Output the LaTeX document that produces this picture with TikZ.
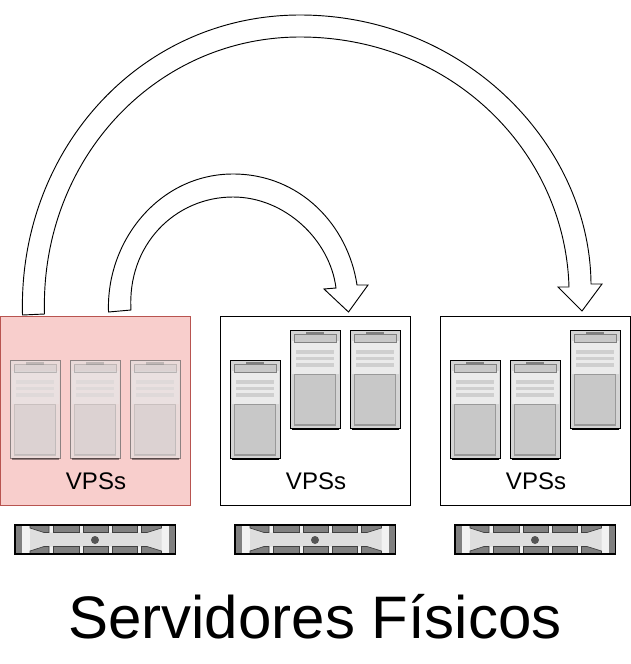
\documentclass[tikz,border=0pt]{standalone}
\usepackage{fontspec}
\setmainfont{Liberation Sans}
\tikzset{
  hostbox/.style={draw=black,fill=white,line width=0.75pt,minimum width=142.5pt,minimum height=141.75pt,inner sep=0pt},
  redbox/.style={hostbox,draw=pinkedge,fill=pinkbg},
  vpslabel/.style={font=\fontsize{18}{20}\selectfont,inner sep=0pt},
  blockarrow/.style={draw=black,fill=white,line width=0.7pt,line join=miter},
  racktab/.style={fill=srvdark,draw=tabedge,line width=0.5pt},
  pics/server/.style={code={
    \fill[black] (2,98) rectangle (48.5,100);
    \fill[srvbody] (0,0) rectangle (50.5,98);
    \fill[srvpale] (2,11) rectangle (48.5,44);
    \fill[srvdark] (16,2) rectangle (34,4.5);
    \draw[srvdark,fill=srvpanel,line width=0.6pt] (4,4.5) rectangle (46,12.5);
    \fill[srvbar] (6,20) rectangle (44,23.5);
    \fill[srvbar] (6,26.5) rectangle (44,30);
    \fill[srvbar] (6,33) rectangle (44,36.5);
    \draw[srvedge,fill=srvpanel,line width=0.9pt] (4.5,44.5) rectangle (45.5,95);
    \draw[black,line width=0.7pt] (0,0) rectangle (50.5,98);
  }},
  pics/rackunit/.style={code={
    \fill[rackpale] (0,0) rectangle (160,29);
    \fill[rackface] (15,3) -- (29,7.5) -- (132,7.5) -- (146.5,3) -- (146.5,26) -- (132,21.5) -- (29,21.5) -- (15,26) -- cycle;
    \fill[srvdark] (0,0) rectangle (7,29);
    \fill[srvdark] (153.5,0) rectangle (160.5,29);
    \draw[racktab] (15,0) -- (34,0) -- (34,7.5) -- (29,7.5) -- (15,3) -- cycle;
    \draw[racktab] (38.5,0) rectangle (64,7.5);
    \draw[racktab] (68,0) rectangle (93.5,7.5);
    \draw[racktab] (97,0) rectangle (122.5,7.5);
    \draw[racktab] (126.5,0) -- (146.5,0) -- (146.5,3) -- (132,7.5) -- (126.5,7.5) -- cycle;
    \draw[racktab] (15,29) -- (34,29) -- (34,21.5) -- (29,21.5) -- (15,26) -- cycle;
    \draw[racktab] (38.5,29) rectangle (64,21.5);
    \draw[racktab] (68,29) rectangle (93.5,21.5);
    \draw[racktab] (97,29) rectangle (122.5,21.5);
    \draw[racktab] (126.5,29) -- (146.5,29) -- (146.5,26) -- (132,21.5) -- (126.5,21.5) -- cycle;
    \fill[rackdot] (80,15) circle (4);
    \draw[black,line width=0.8pt] (0,0) rectangle (160.5,29);
  }}
}
\definecolor{pinkbg}{HTML}{F8CECC}
\definecolor{pinkedge}{HTML}{B85450}
\definecolor{srvbody}{HTML}{D4D4D4}
\definecolor{srvpale}{HTML}{EBEBEB}
\definecolor{srvdark}{HTML}{808080}
\definecolor{srvpanel}{HTML}{C8C8C8}
\definecolor{srvbar}{HTML}{CFCFCF}
\definecolor{srvedge}{HTML}{999999}
\definecolor{rackpale}{HTML}{F2F2F2}
\definecolor{rackface}{HTML}{DEDEDE}
\definecolor{rackdot}{HTML}{555555}
\definecolor{tabedge}{HTML}{404040}
\begin{document}
\begin{tikzpicture}[x=0.75pt,y=-0.75pt]
\useasboundingbox (0,0) rectangle (631,664);
\node[redbox] (hosta) at (95,410.5) {};
\node[hostbox] (hostb) at (315,410.5) {};
\node[hostbox] (hostc) at (535,410.5) {};
\foreach \px in {10,70,130} {
  \fill[white,opacity=0.35] (\px,360) rectangle ++(50.5,98);
  \pic[opacity=0.4] at (\px,360) {server};
}
\pic at (230,360) {server};
\pic at (290,330) {server};
\pic at (350,330) {server};
\pic at (450,360) {server};
\pic at (510,360) {server};
\pic at (570,330) {server};
\node[vpslabel] (vpsa) at (96,481) {VPSs};
\node[vpslabel] (vpsb) at (316,481) {VPSs};
\node[vpslabel] (vpsc) at (536,481) {VPSs};
\foreach \px in {15,235,455}
  \pic at (\px,525) {rackunit};
\node[font=\fontsize{45}{50}\selectfont,inner sep=0pt] (title) at (315,617) {Servidores Físicos};
\draw[blockarrow] (22.5,315) .. controls (18,150) and (140,15) .. (300,15)
  .. controls (465,15) and (590,145) .. (591,284) -- (602,284) -- (582,311) -- (558,287) -- (569,287)
  .. controls (565,150) and (450,37) .. (300,37)
  .. controls (155,37) and (40,160) .. (44.5,314) -- cycle;
\draw[blockarrow] (108.5,312) .. controls (106,240) and (160,174) .. (233,174)
  .. controls (300,174) and (348,225) .. (357,285) -- (368,285) -- (348.5,312) -- (324,289) -- (336,288)
  .. controls (330,240) and (285,197) .. (233,197)
  .. controls (175,197) and (127,245) .. (131,310) -- cycle;
\end{tikzpicture}
\end{document}
